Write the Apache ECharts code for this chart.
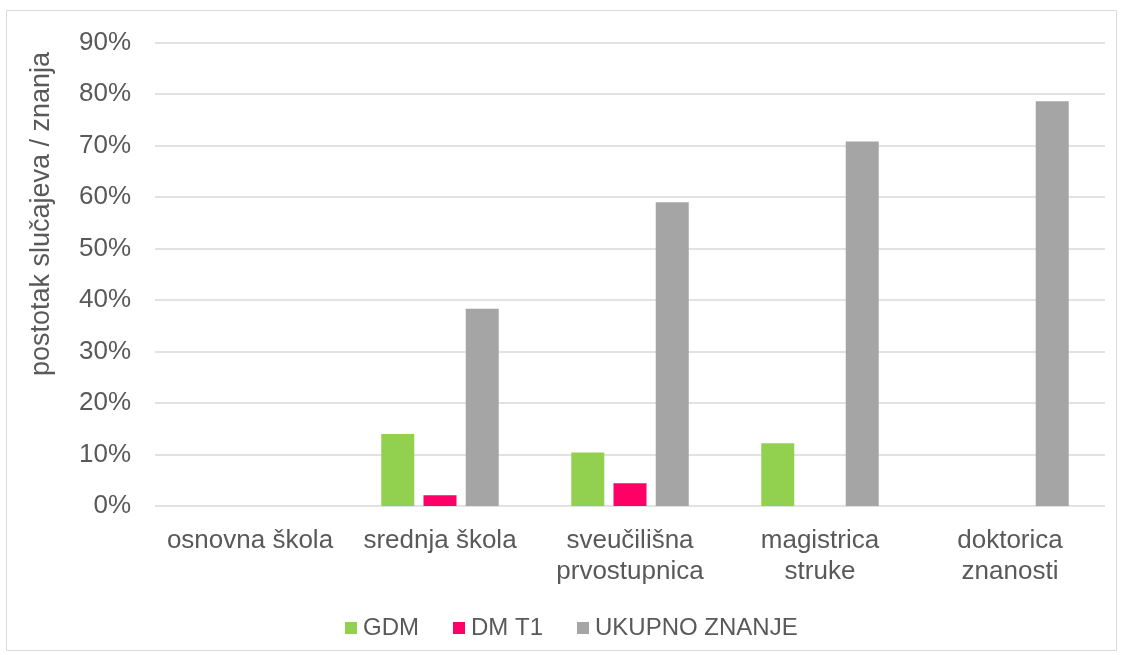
<!DOCTYPE html>
<html><head><meta charset="utf-8">
<script src="https://cdn.jsdelivr.net/npm/echarts@6/dist/echarts.min.js"></script>
<style>html,body{margin:0;padding:0;background:#fff}#c{width:1123px;height:655px}</style>
</head><body><div id="c"></div>
<script>
const categories = ['osnovna škola', 'srednja škola', 'sveučilišna\nprvostupnica', 'magistrica\nstruke', 'doktorica\nznanosti'];
const seriesNames = ['GDM', 'DM T1', 'UKUPNO ZNANJE'];
const gdm = [null, 14.0, 10.4, 12.2, null];
const dmT1 = [null, 2.1, 4.4, null, null];
const ukupno = [null, 38.3, 59.0, 70.8, 78.6];
const colors = ['#92d050', '#ff0066', '#a5a5a5'];
const yTicks = [0, 90, 10];
const yTitle = 'postotak slučajeva / znanja';

const chart = echarts.init(document.getElementById('c'), null, {renderer: 'canvas'});
const font = 'Liberation Sans, Arial, sans-serif';
chart.setOption({
  animation: false,
  graphic: [
    {type: 'rect', shape: {x: 6.5, y: 10.5, width: 1110, height: 640}, style: {fill: 'none', stroke: '#d9d9d9', lineWidth: 1}, silent: true},
    {type: 'text', x: 42, y: 214, rotation: Math.PI / 2,
     style: {text: yTitle, font: '27px ' + font, fill: '#595959', align: 'center', verticalAlign: 'middle'}}
  ],
  grid: {left: 155, right: 18, top: 42.5, bottom: 149, containLabel: false},
  legend: {
    top: 611, left: 340, itemWidth: 12, itemHeight: 12, itemGap: 34,
    icon: 'rect',
    textStyle: {fontFamily: font, fontSize: 24, color: '#595959', padding: [0, 0, 0, 1]},
    data: seriesNames
  },
  xAxis: {
    type: 'category', data: categories,
    axisLine: {show: false}, axisTick: {show: false},
    axisLabel: {fontFamily: font, fontSize: 26, color: '#595959', margin: 19, lineHeight: 31, interval: 0}
  },
  yAxis: {
    type: 'value', min: yTicks[0], max: yTicks[1], interval: yTicks[2],
    axisLabel: {formatter: '{value}%', fontFamily: font, fontSize: 26, color: '#595959', margin: 24},
    splitLine: {lineStyle: {color: '#d9d9d9', width: 1.5}},
    axisLine: {show: false}, axisTick: {show: false}
  },
  series: [
    {name: seriesNames[0], type: 'bar', data: gdm, itemStyle: {color: colors[0]}, barWidth: 33, barGap: '28%'},
    {name: seriesNames[1], type: 'bar', data: dmT1, itemStyle: {color: colors[1]}, barWidth: 33, barGap: '28%'},
    {name: seriesNames[2], type: 'bar', data: ukupno, itemStyle: {color: colors[2]}, barWidth: 33, barGap: '28%'}
  ]
});
</script></body></html>
